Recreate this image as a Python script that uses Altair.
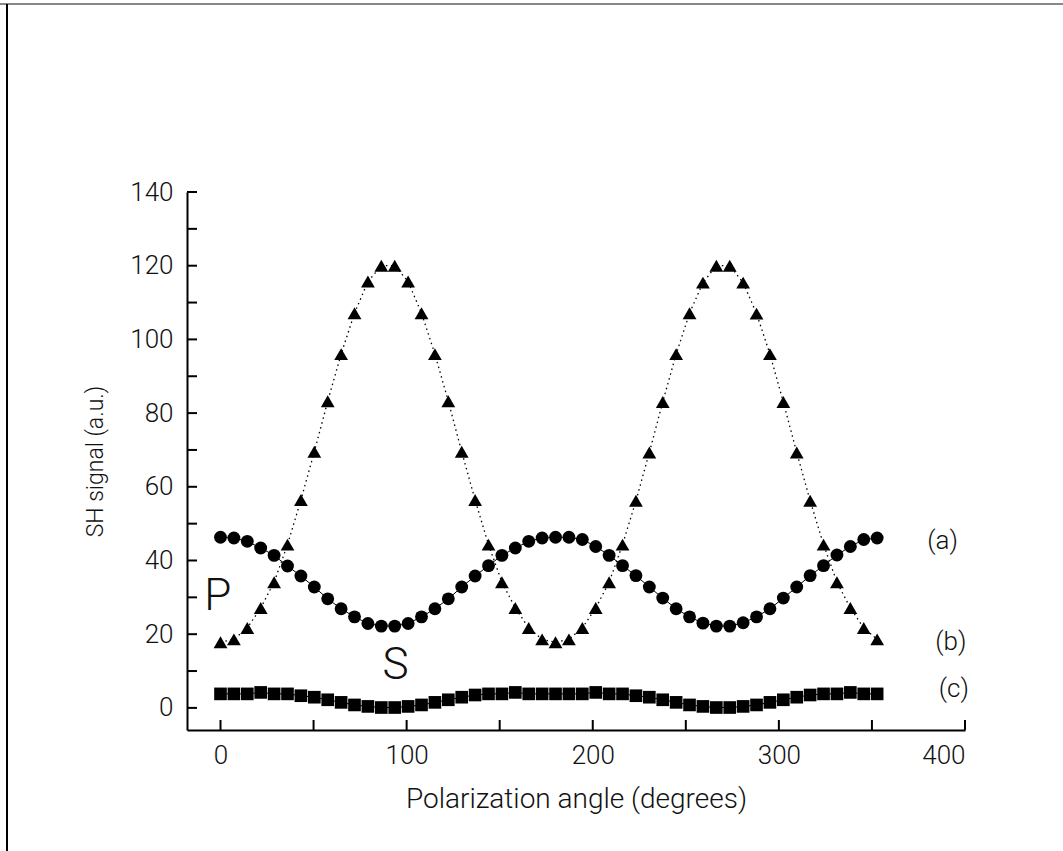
import altair as alt
import pandas as pd

# ---------------- data ----------------
angle = [0, 7.2, 14.4, 21.6, 28.8, 36, 43.2, 50.4, 57.6, 64.8,
         72, 79.2, 86.4, 93.6, 100.8, 108, 115.2, 122.4, 129.6, 136.8,
         144, 151.2, 158.4, 165.6, 172.8, 180, 187.2, 194.4, 201.6, 208.8,
         216, 223.2, 230.4, 237.6, 244.8, 252, 259.2, 266.4, 273.6, 280.8,
         288, 295.2, 302.4, 309.6, 316.8, 324, 331.2, 338.4, 345.6, 352.8]

# (a) circles
signal_a = [46.3, 46.1, 45.2, 43.4, 41.4, 38.5, 35.8, 32.8, 29.6, 26.9,
            24.7, 22.9, 22.2, 22.2, 22.9, 24.7, 26.9, 29.6, 32.8, 35.8,
            38.6, 41.4, 43.4, 45.2, 46.1, 46.3, 46.3, 45.7, 43.8, 41.4,
            38.6, 35.9, 32.8, 29.8, 26.9, 24.7, 23.0, 22.2, 22.2, 23.1,
            24.7, 26.9, 29.8, 32.8, 35.9, 38.6, 41.5, 43.8, 45.7, 46.1]

# (b) triangles
signal_b = [17.8, 18.6, 21.7, 27.1, 34.1, 44.3, 56.4, 69.5, 83.2, 96.0,
            107.1, 115.7, 120.0, 120.0, 115.7, 107.1, 96.0, 83.2, 69.5, 56.4,
            44.3, 34.1, 27.1, 21.7, 18.6, 17.8, 18.6, 21.7, 27.1, 34.1,
            44.3, 56.2, 69.3, 83.0, 96.0, 107.1, 115.4, 120.0, 120.0, 115.4,
            107.0, 96.0, 83.0, 69.3, 56.2, 44.3, 34.1, 27.1, 21.7, 18.6]

# (c) squares
signal_c = [3.8, 3.8, 3.8, 4.2, 3.8, 3.8, 3.3, 2.9, 2.2, 1.5,
            0.8, 0.4, 0.1, 0.1, 0.4, 0.8, 1.5, 2.2, 2.9, 3.5,
            3.8, 3.8, 4.2, 3.8, 3.8, 3.8, 3.8, 3.8, 4.2, 3.8,
            3.8, 3.3, 2.9, 2.2, 1.5, 0.8, 0.4, 0.1, 0.1, 0.4,
            0.8, 1.5, 2.2, 2.9, 3.5, 3.8, 3.8, 4.2, 3.8, 3.8]

x_tick_values = [0, 50, 100, 150, 200, 250, 300, 350, 400]
x_label_values = [0, 100, 200, 300, 400]
y_tick_values = [0, 10, 20, 30, 40, 50, 60, 70, 80, 90, 100, 110, 120, 130, 140]
y_label_values = [0, 20, 40, 60, 80, 100, 120, 140]

big_labels = ["P", "S"]
big_label_x = [-1.5, 94]
big_label_y = [30, 11.4]

curve_labels = ["(a)", "(b)", "(c)"]
curve_label_x = [388, 392.4, 394]
curve_label_y = [45.4, 18.0, 5.1]

x_title = "Polarization angle (degrees)"
y_title = "SH signal (a.u.)"

# ---------------- chart ----------------
W, H = 778, 538
FONT = "Roboto"

df = pd.DataFrame({"angle": angle, "a": signal_a, "b": signal_b, "c": signal_c})
xs = alt.Scale(domain=[-18, 400], nice=False, zero=False)
ys = alt.Scale(domain=[-6, 140], nice=False, zero=False)

x_axis = alt.Axis(values=x_label_values, ticks=False, grid=False, title=x_title,
                  labelPadding=12, titlePadding=17, domainColor="black", domainWidth=2,
                  labelFont=FONT, labelFontSize=26, labelFontWeight=300, labelColor="#111",
                  titleFont=FONT, titleFontSize=28, titleFontWeight=300, titleColor="#111")
y_axis = alt.Axis(values=y_label_values, ticks=False, grid=False, title=y_title,
                  labelPadding=14, titlePadding=22, domainColor="black", domainWidth=2,
                  labelFont=FONT, labelFontSize=26, labelFontWeight=300, labelColor="#111",
                  titleFont=FONT, titleFontSize=23, titleFontWeight=300, titleColor="#111")


def X(field):
    return alt.X(field, scale=xs, axis=x_axis, title=x_title)


def Y(field):
    return alt.Y(field, scale=ys, axis=y_axis, title=y_title)


base = alt.Chart(df)

line_a = base.mark_line(color="black", strokeWidth=1).encode(x=X("angle:Q"), y=Y("a:Q"))
line_b = base.mark_line(color="black", strokeWidth=1.3, strokeDash=[1.5, 3.5]).encode(
    x=X("angle:Q"), y=Y("b:Q"))
line_c = base.mark_line(color="black", strokeWidth=1).encode(x=X("angle:Q"), y=Y("c:Q"))

pts_a = base.mark_point(shape="circle", filled=True, size=165, color="black", opacity=1).encode(
    x=X("angle:Q"), y=Y("a:Q"))
pts_b = base.mark_point(shape="triangle-up", filled=True, size=190, color="black", opacity=1).encode(
    x=X("angle:Q"), y=Y("b:Q"))
pts_c = base.mark_point(shape="square", filled=True, size=160, color="black", opacity=1).encode(
    x=X("angle:Q"), y=Y("c:Q"))

xt = alt.Chart(pd.DataFrame({"v": x_tick_values})).mark_rule(color="black", strokeWidth=2).encode(
    x=X("v:Q"), y=alt.value(H), y2=alt.value(H - 10))
yt = alt.Chart(pd.DataFrame({"v": y_tick_values})).mark_rule(color="black", strokeWidth=2).encode(
    y=Y("v:Q"), x=alt.value(0), x2=alt.value(10))

big_txt = alt.Chart(pd.DataFrame({"x": big_label_x, "y": big_label_y, "t": big_labels})).mark_text(
    font=FONT, fontSize=44, fontWeight=300, color="#111", baseline="middle", align="center").encode(
    x=X("x:Q"), y=Y("y:Q"), text="t:N")
cur_txt = alt.Chart(pd.DataFrame({"x": curve_label_x, "y": curve_label_y, "t": curve_labels})).mark_text(
    font=FONT, fontSize=26, fontWeight=300, color="#111", baseline="middle", align="center").encode(
    x=X("x:Q"), y=Y("y:Q"), text="t:N")

# decorative frame lines of the original picture
frame_top = alt.Chart(pd.DataFrame({"k": [0]})).mark_rule(color="#888", strokeWidth=2).encode(
    x=alt.value(-187), x2=alt.value(1063 - 187), y=alt.value(-188))
frame_left = alt.Chart(pd.DataFrame({"k": [0]})).mark_rule(color="black", strokeWidth=2).encode(
    x=alt.value(-180), y=alt.value(-188), y2=alt.value(851 - 192))

chart = alt.layer(
    line_a, line_b, line_c, pts_a, pts_b, pts_c, xt, yt, big_txt, cur_txt,
    frame_top, frame_left,
).properties(
    width=W, height=H,
    autosize=alt.AutoSizeParams(type="none"),
    padding={"left": 187, "top": 192, "right": 98, "bottom": 121},
).configure(background="white").configure_view(stroke="transparent", strokeOpacity=0)

chart.save("out.html", embed_options={"renderer": "svg", "actions": False})
